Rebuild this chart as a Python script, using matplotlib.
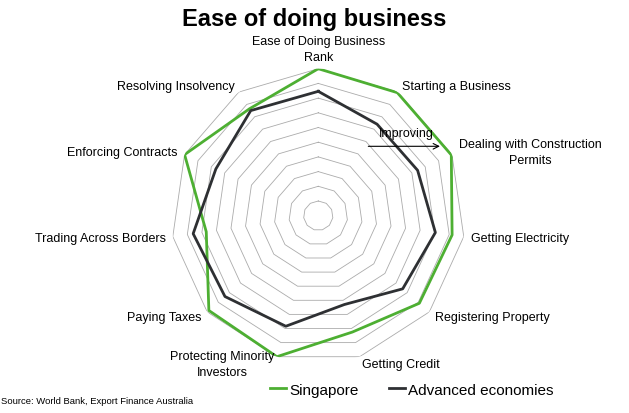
import numpy as np
import matplotlib
matplotlib.use('Agg')
import matplotlib.pyplot as plt

plt.rcParams['font.family'] = ['Liberation Sans', 'DejaVu Sans']

CATEGORIES = ['Ease of Doing Business\nRank', 'Starting a Business',
              'Dealing with Construction\nPermits', 'Getting Electricity',
              'Registering Property', 'Getting Credit',
              'Protecting Minority\nInvestors', 'Paying Taxes',
              'Trading Across Borders', 'Enforcing Contracts',
              'Resolving Insolvency']
SINGAPORE = [100, 99.5, 99.5, 92, 91, 82.5, 100, 98.5, 77, 100, 86.5]
ADVANCED = [84.6, 74, 74.3, 80.5, 76, 63, 78.4, 84, 86, 76.6, 85]
RINGS = [10, 20, 30, 40, 50, 60, 70, 80, 90, 100]

GREEN = '#4DAF32'
DARK = '#2E3033'


def closed(values):
    return list(values) + [values[0]]


def main():
    n = len(CATEGORIES)
    theta = np.linspace(0, 2 * np.pi, n, endpoint=False)
    theta_c = closed(theta)

    fig = plt.figure(figsize=(6.29, 4.14), dpi=100)
    ax = fig.add_axes([0.506 - 0.2337, 0.4766 - 0.355, 0.4674, 0.710],
                      projection='polar')
    ax.set_theta_zero_location('N')
    ax.set_theta_direction(-1)
    ax.set_ylim(0, 100)
    ax.grid(False)
    ax.set_xticks([])
    ax.set_yticks([])
    ax.spines['polar'].set_visible(False)
    ax.patch.set_visible(False)

    # polygon gridlines
    for r in RINGS:
        ax.plot(theta_c, [r] * (n + 1), color='#ABABAB', lw=0.6, zorder=1)

    ax.plot(theta_c, closed(SINGAPORE), color=GREEN, lw=2.0, zorder=3,
            label='Singapore')
    ax.plot(theta_c, closed(ADVANCED), color=DARK, lw=2.0, zorder=3,
            label='Advanced economies')

    # category labels
    for i, (t, lab) in enumerate(zip(theta, CATEGORIES)):
        s = np.sin(t)
        if i == 0:
            ha, va, r = 'center', 'bottom', 104
        elif s > 0.05:
            ha, va, r = 'left', 'center', 105
        else:
            ha, va, r = 'right', 'center', 105
        ax.text(t, r, lab, ha=ha, va=va, fontsize=9, multialignment='center',
                linespacing=1.45, clip_on=False)

    ax.annotate('', xy=(np.radians(60.3), 95.3),
                xytext=(np.radians(35.8), 58.2),
                arrowprops=dict(arrowstyle='->', color='black', lw=0.8,
                                shrinkA=0, shrinkB=0), zorder=4)
    ax.text(np.radians(46.9), 82.4, 'Improving', ha='center', va='center',
            fontsize=9, zorder=5)

    fig.text(0.499, 0.952, 'Ease of doing business', ha='center', va='center',
             fontsize=17, fontweight='bold')
    fig.text(0.001, 0.029, 'Source: World Bank, Export Finance Australia',
             ha='left', va='center', fontsize=6.8)

    handles, labels = ax.get_legend_handles_labels()
    fig.legend(handles, labels, loc='center', bbox_to_anchor=(0.655, 0.056),
               ncol=2, frameon=False, fontsize=11, handlelength=1.05,
               handletextpad=0.2, columnspacing=2.0)

    fig.savefig('out.png', dpi=100)


if __name__ == '__main__':
    main()
